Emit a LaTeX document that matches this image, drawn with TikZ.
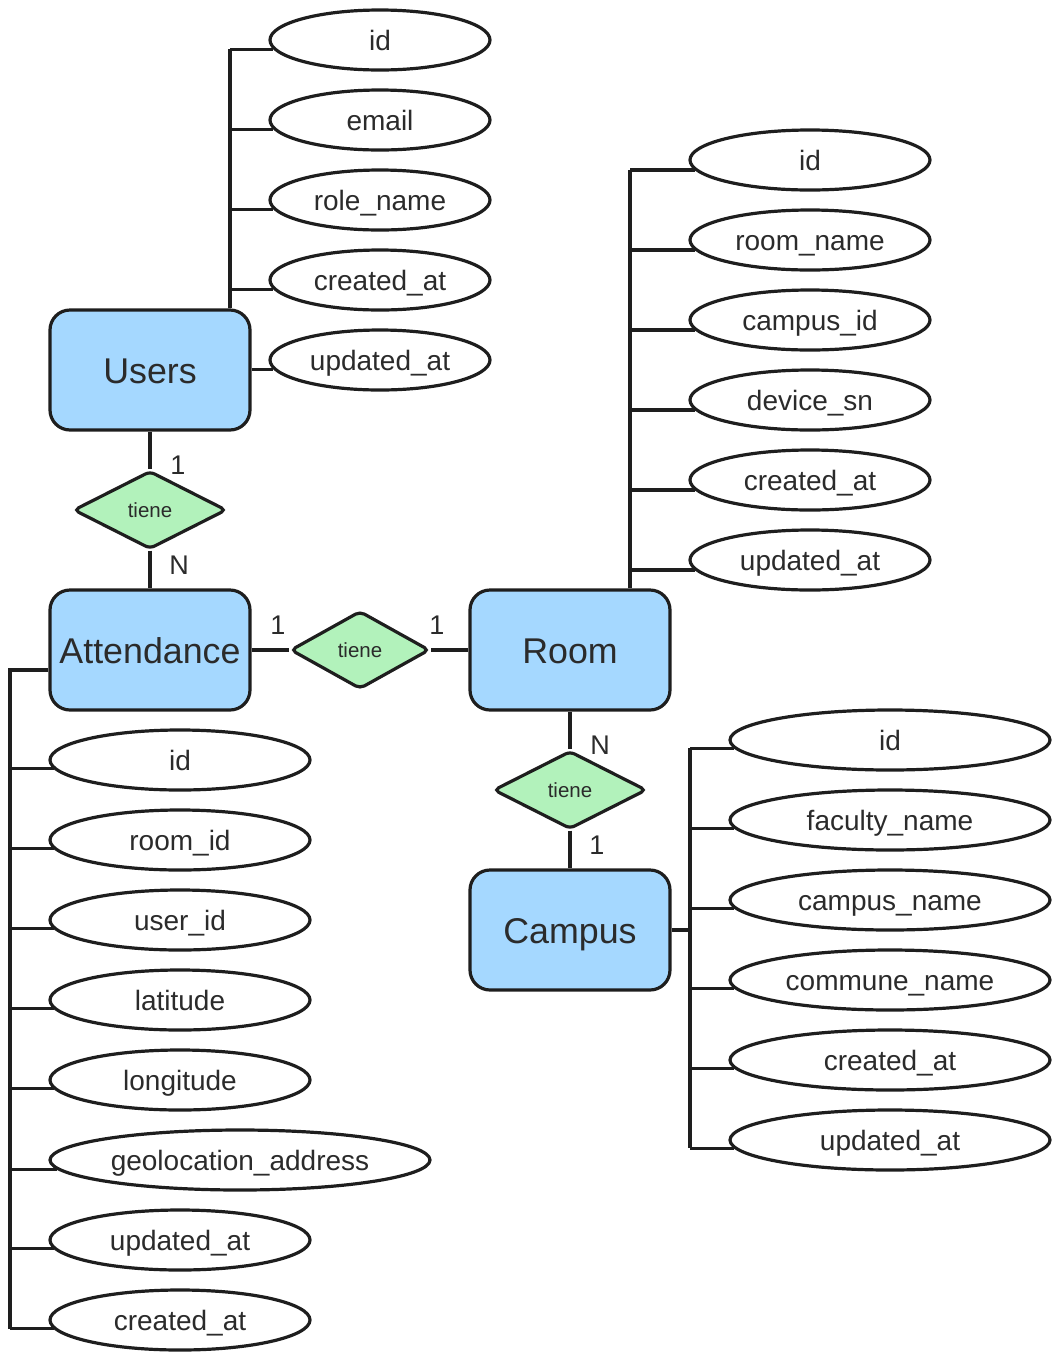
\documentclass[tikz,border=0pt]{standalone}
\usepackage{fontspec}
\setmainfont{Liberation Sans}
\usetikzlibrary{shapes.geometric,calc}
\definecolor{ink}{HTML}{1E1E1E}
\definecolor{txt}{HTML}{2B2B2B}
\definecolor{entblue}{HTML}{A5D8FF}
\definecolor{relgreen}{HTML}{B2F2BB}
\tikzset{
  conn/.style={draw=ink,line width=3.2pt},
  entity/.style={draw=ink,line width=3.2pt,fill=entblue,rounded corners=20pt,
    minimum width=200pt,minimum height=120pt,inner sep=0pt,text=txt,
    text height=27pt,text depth=1pt,
    font=\fontsize{35.8}{40}\selectfont},
  rel/.style={diamond,draw=ink,line width=3.2pt,fill=relgreen,rounded corners=5pt,
    minimum width=153pt,minimum height=78pt,inner sep=0pt,text=txt,
    text height=15pt,text depth=1pt,
    font=\fontsize{20.5}{24}\selectfont},
  attr/.style={ellipse,draw=ink,line width=3.2pt,fill=white,inner sep=0pt,
    minimum height=60pt,text=txt,text height=21pt,text depth=1pt,
    font=\fontsize{28}{32}\selectfont},
  card/.style={text=txt,font=\fontsize{27}{30}\selectfont,inner sep=0pt},
}
\begin{document}
\begin{tikzpicture}[x=1pt,y=-1pt]
\useasboundingbox (0,0) rectangle (1060,1361);

% ---------- entities ----------
\node[entity] (users) at (150,370) {Users};
\node[entity] (att) at (150,650) {Attendance};
\node[entity] (room) at (570,650) {Room};
\node[entity] (campus) at (570,930) {Campus};

% ---------- relationships ----------
\node[rel] (r1) at (150,510) {tiene};
\node[rel,minimum width=139pt] (r2) at (360,650) {tiene};
\node[rel] (r3) at (570,790) {tiene};

\draw[conn] (users.south) -- (r1.north);
\draw[conn] (r1.south) -- (att.north);
\draw[conn] (att.east) -- (r2.west);
\draw[conn] (r2.east) -- (room.west);
\draw[conn] (room.south) -- (r3.north);
\draw[conn] (r3.south) -- (campus.north);

\node[card] (c1) at (178,465) {1};
\node[card] (c2) at (179,565) {N};
\node[card] (c3) at (278,625) {1};
\node[card] (c4) at (437,625) {1};
\node[card] (c5) at (600,745) {N};
\node[card] (c6) at (597,845) {1};

% ---------- Users attributes ----------
\foreach \n/\t [count=\i] in {u1/id,u2/email,u3/role\_name,u4/created\_at,u5/updated\_at}
  \node[attr,minimum width=220pt] (\n) at (380,-40+80*\i) {\t};
\coordinate (ut) at (230,370);
\draw[conn] (users.north -| ut) -- (ut |- u1.185.5);
\foreach \n in {u1,u2,u3,u4}
  \draw[conn] (ut |- \n.185.5) -- (\n.185.5);
\draw[conn] (users.east |- u5.185.5) -- (u5.185.5);

% ---------- Attendance attributes ----------
\foreach \n/\t [count=\i] in {a1/id,a2/room\_id,a3/user\_id,a4/latitude,a5/longitude}
  \node[attr,minimum width=260pt] (\n) at (180,680+80*\i) {\t};
\node[attr,minimum width=380pt] (a6) at (240,1160) {geolocation\_address};
\node[attr,minimum width=260pt] (a7) at (180,1240) {updated\_at};
\node[attr,minimum width=260pt] (a8) at (180,1320) {created\_at};
\coordinate (at) at (10,670);
\draw[conn] (att.west |- at) -- (at) -- (at |- a8.184.7);
\foreach \n in {a1,a2,a3,a4,a5,a7,a8}
  \draw[conn] (at |- \n.184.7) -- (\n.184.7);
\draw[conn] (at |- a6.183.2) -- (a6.183.2);

% ---------- Room attributes ----------
\foreach \n/\t [count=\i] in {m1/id,m2/room\_name,m3/campus\_id,m4/device\_sn,m5/created\_at,m6/updated\_at}
  \node[attr,minimum width=240pt] (\n) at (810,80+80*\i) {\t};
\coordinate (rt) at (630,650);
\draw[conn] (room.north -| rt) -- (rt |- m1.185);
\foreach \n in {m1,m2,m3,m4,m5,m6}
  \draw[conn] (rt |- \n.185) -- (\n.185);

% ---------- Campus attributes ----------
\foreach \n/\t [count=\i] in {k1/id,k2/faculty\_name,k3/campus\_name,k4/commune\_name,k5/created\_at,k6/updated\_at}
  \node[attr,minimum width=320pt] (\n) at (890,660+80*\i) {\t};
\coordinate (ct) at (690,930);
\draw[conn] (campus.east) -- (ct);
\draw[conn] (ct |- k1.183.8) -- (ct |- k6.183.8);
\foreach \n in {k1,k2,k3,k4,k5,k6}
  \draw[conn] (ct |- \n.183.8) -- (\n.183.8);
\end{tikzpicture}
\end{document}
